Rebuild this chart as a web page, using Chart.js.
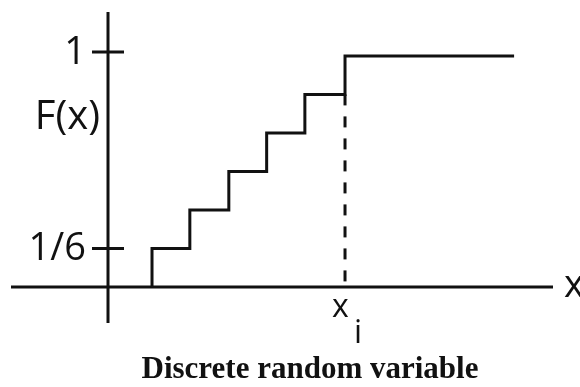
<!DOCTYPE html>
<html>
<head>
<meta charset="utf-8">
<script src="https://cdn.jsdelivr.net/npm/chart.js@4.4.1/dist/chart.umd.min.js"></script>
<style>
  body { margin: 0; background: #fff; }
  canvas { display: block; }
</style>
</head>
<body>
<canvas id="cdf" width="580" height="387"></canvas>
<script>
// step function F(x), vertices
const stepX = [1.14, 1.14, 2.12, 3.13, 4.11, 5.10, 6.14, 10.52];
const stepY = [0, 1/6, 2/6, 3/6, 4/6, 5/6, 1, 1];
// dashed drop at x_i
const dropX = [6.14, 6.14];
const dropY = [5/6, 0];
// y axis ticks
const yTicks = [1/6, 1.017];
const yTickLabels = ['1/6', '1'];
const xMark = 6.14;
const xMarkLabel = 'x';
const xMarkSub = 'i';
const yName = 'F(x)';
const xName = 'x';
const titleText = 'Discrete random variable';

const ink = '#111';

const axesPlugin = {
  id: 'axesPlugin',
  beforeDatasetsDraw(chart) {
    const ctx = chart.ctx;
    const xs = chart.scales.x, ys = chart.scales.y;
    const ox = xs.getPixelForValue(0), oy = ys.getPixelForValue(0);
    ctx.save();
    ctx.strokeStyle = ink;
    ctx.lineWidth = 3;
    ctx.beginPath();
    ctx.moveTo(xs.left, oy); ctx.lineTo(xs.right, oy);
    ctx.moveTo(ox, ys.top); ctx.lineTo(ox, ys.bottom);
    yTicks.forEach(v => {
      const py = ys.getPixelForValue(v);
      ctx.moveTo(ox - 16, py); ctx.lineTo(ox + 16, py);
    });
    ctx.stroke();

    ctx.fillStyle = ink;
    ctx.font = '38px "Open Sans"';
    ctx.textAlign = 'right';
    ctx.textBaseline = 'middle';
    yTicks.forEach((v, i) => {
      ctx.fillText(yTickLabels[i], ox - 22, ys.getPixelForValue(v) + 1);
    });
    ctx.font = '40px "Open Sans"';
    ctx.fillText(yName, ox - 8, oy - 169);

    ctx.textAlign = 'left';
    ctx.textBaseline = 'alphabetic';
    ctx.font = '38px "Open Sans"';
    ctx.fillText(xName, xs.right + 11, oy + 10);
    const mx = xs.getPixelForValue(xMark);
    ctx.font = '32px "Open Sans"';
    ctx.fillText(xMarkLabel, mx - 13, oy + 30);
    ctx.fillText(xMarkSub, mx + 9, oy + 56);

    ctx.font = 'bold 31px "Liberation Serif"';
    ctx.textAlign = 'center';
    ctx.fillText(titleText, 310, 378);
    ctx.restore();
  }
};

new Chart(document.getElementById('cdf'), {
  type: 'line',
  data: {
    datasets: [
      {
        data: stepX.map((x, i) => ({ x: x, y: stepY[i] })),
        stepped: 'before',
        borderColor: ink,
        borderWidth: 3,
        pointRadius: 0,
        fill: false
      },
      {
        data: dropX.map((x, i) => ({ x: x, y: dropY[i] })),
        borderColor: ink,
        borderWidth: 3,
        borderDash: [11, 11],
        pointRadius: 0,
        fill: false
      }
    ]
  },
  options: {
    responsive: false,
    animation: false,
    layout: { padding: { left: 11, right: 27, top: 12, bottom: 64 } },
    plugins: { legend: { display: false }, tooltip: { enabled: false }, title: { display: false } },
    scales: {
      x: { type: 'linear', min: -2.513, max: 11.528, display: false },
      y: { type: 'linear', min: -0.156, max: 1.19, display: false }
    }
  },
  plugins: [axesPlugin]
});
</script>
</body>
</html>
